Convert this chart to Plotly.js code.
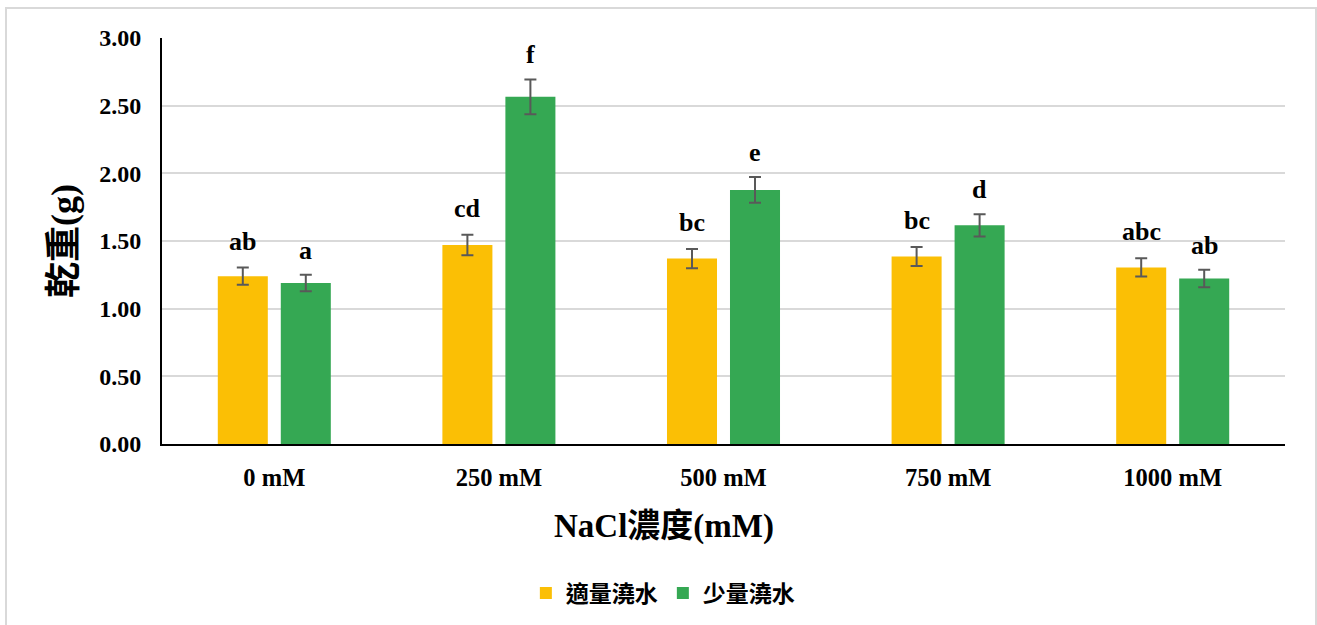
<!DOCTYPE html>
<html>
<head>
<meta charset="utf-8">
<script src="https://cdn.plot.ly/plotly-3.0.1.min.js"></script>
<style>
  html, body { margin: 0; padding: 0; background: #ffffff; overflow: hidden; }
  #chart { width: 1317px; height: 625px; position: absolute; left: 0; top: 0; }
  #frame { position: absolute; left: 5px; top: 7px; width: 1308px; height: 640px;
           border: 2px solid #d9d9d9; pointer-events: none; }
</style>
</head>
<body>
<div id="chart"></div>
<div id="frame"></div>
<script>
// ---- data ----
const categories = ['0 mM', '250 mM', '500 mM', '750 mM', '1000 mM'];
const seriesNames = ['適量澆水', '少量澆水'];
const normalWater = [1.24, 1.47, 1.37, 1.385, 1.305];
const normalErr   = [0.064, 0.076, 0.071, 0.070, 0.068];
const lowWater    = [1.19, 2.565, 1.877, 1.616, 1.223];
const lowErr      = [0.061, 0.129, 0.095, 0.082, 0.064];
const normalLetters = ['ab', 'cd', 'bc', 'bc', 'abc'];
const lowLetters    = ['a', 'f', 'e', 'd', 'ab'];
const yTickVals = [0, 0.5, 1.0, 1.5, 2.0, 2.5, 3.0];
const xTitle = 'NaCl濃度(mM)';
const yTitle = '乾重(g)';

const serif = '"Liberation Serif", "Times New Roman", "Noto Sans CJK TC", serif';
const cjk = '"Liberation Serif", "Noto Sans CJK TC", serif';

const colors = ['#FBBF05', '#35A853'];

const traces = [
  {
    type: 'bar', name: seriesNames[0], x: categories, y: normalWater,
    marker: { color: colors[0] },
    error_y: { type: 'data', array: normalErr, visible: true, color: '#595959', thickness: 2, width: 6 }
  },
  {
    type: 'bar', name: seriesNames[1], x: categories, y: lowWater,
    marker: { color: colors[1] },
    error_y: { type: 'data', array: lowErr, visible: true, color: '#595959', thickness: 2, width: 6 }
  }
];

const annotations = [];
categories.forEach((c, i) => {
  annotations.push({
    x: c, y: normalWater[i] + normalErr[i], xref: 'x', yref: 'y',
    text: normalLetters[i], showarrow: false, xshift: -31.5, yshift: 10,
    yanchor: 'bottom', font: { family: serif, size: 26, color: '#000', weight: 'bold' }
  });
  annotations.push({
    x: c, y: lowWater[i] + lowErr[i], xref: 'x', yref: 'y',
    text: lowLetters[i], showarrow: false, xshift: 31.5, yshift: 8,
    yanchor: 'bottom', font: { family: serif, size: 26, color: '#000', weight: 'bold' }
  });
});
// x-axis title, centred on the whole chart as in the reference
annotations.push({
  xref: 'paper', yref: 'paper', x: 0.447, y: -0.204, xanchor: 'center', yanchor: 'middle',
  text: xTitle, showarrow: false,
  font: { family: cjk, size: 33, color: '#000', weight: 'bold' }
});

const layout = {
  width: 1317, height: 625,
  paper_bgcolor: '#ffffff', plot_bgcolor: '#ffffff',
  margin: { l: 162, r: 32, t: 38, b: 180, pad: 0 },
  barmode: 'group', bargap: 0.439, bargroupgap: 0.206,
  showlegend: true,
  legend: {
    orientation: 'h', x: 0.446, xanchor: 'center', y: -0.364, yanchor: 'middle',
    font: { family: cjk, size: 23, color: '#000', weight: 'bold' },
    itemwidth: 30, traceorder: 'normal'
  },
  xaxis: {
    type: 'category', showline: true, linecolor: '#000', linewidth: 2,
    ticks: '', showgrid: false, zeroline: false,
    tickfont: { family: serif, size: 24.5, color: '#000', weight: 'bold' },
    ticklabelstandoff: 11
  },
  yaxis: {
    range: [0, 3], tickvals: yTickVals, tickformat: '.2f',
    showline: true, linecolor: '#000', linewidth: 2, ticks: '',
    showgrid: true, gridcolor: '#d9d9d9', gridwidth: 2, zeroline: false,
    tickfont: { family: serif, size: 24, color: '#000', weight: 'bold' },
    ticklabelstandoff: 14,
    title: { text: yTitle, font: { family: cjk, size: 36, color: '#000', weight: 'bold' }, standoff: 12 }
  },
  annotations: annotations
};

Plotly.newPlot('chart', traces, layout, { staticPlot: true, displayModeBar: false });
</script>
</body>
</html>
